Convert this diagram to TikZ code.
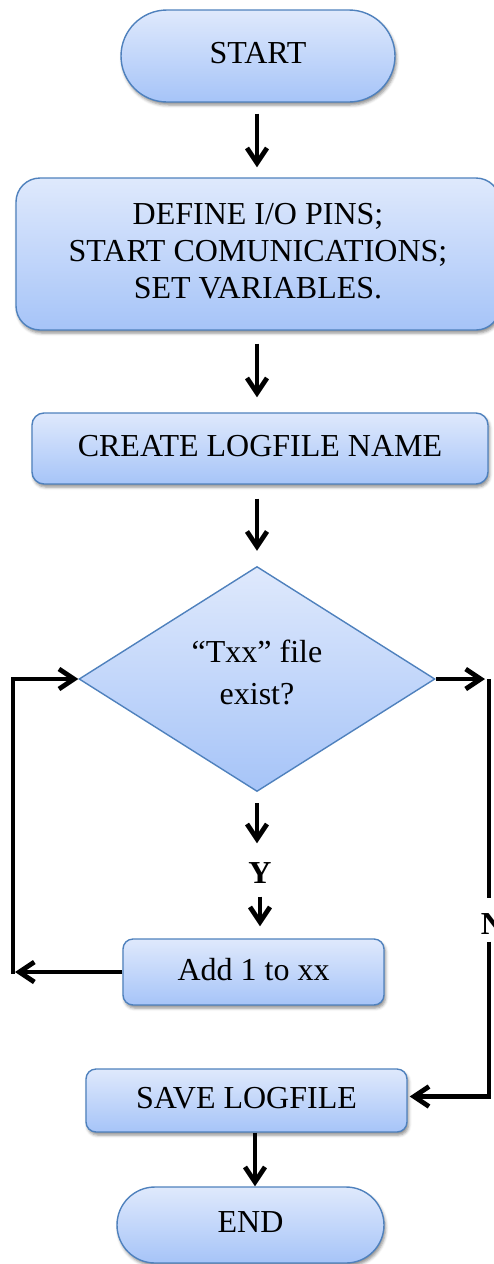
\documentclass[tikz,border=0pt]{standalone}
\usepackage{fontspec}
\setmainfont{Liberation Serif}
\usetikzlibrary{shapes.geometric,arrows.meta,shadows.blur}

\definecolor{boxtop}{HTML}{DFE9FC}
\definecolor{boxbot}{HTML}{A6C4F8}
\definecolor{boxline}{HTML}{4F81BD}

\begin{document}
\begin{tikzpicture}[x=1pt,y=-1pt,
  every node/.style={font=\fontsize{32}{36.7}\selectfont, text=black},
  boxfill/.style={draw=boxline, line width=1.4pt, top color=boxtop, bottom color=boxbot},
  boxshadow/.style={blur shadow={shadow xshift=1.5pt, shadow yshift=-3pt,
      shadow opacity=45, shadow blur radius=3pt}},
  flowbox/.style={boxfill, boxshadow, inner sep=0pt, align=center, text depth=6pt},
  terminal/.style={flowbox, rounded corners=#1},
  decision/.style={boxfill, diamond, inner sep=0pt},
  flag/.style={font=\fontsize{32}{36.7}\selectfont\bfseries, inner sep=0pt},
  link/.style={line width=4.8pt},
  conn/.style={link, -{Straight Barb[length=15pt,width=20pt]}}
]
\useasboundingbox (0,0) rectangle (494,1264);

% process steps
\node[terminal=46pt, minimum width=274pt, minimum height=92pt] (start) at (258,56) {START};
\node[flowbox, rounded corners=24pt, minimum width=484pt, minimum height=152pt] (define) at (258,254)
  {DEFINE I/O PINS;\\START COMUNICATIONS;\\SET VARIABLES.};
\node[flowbox, rounded corners=12pt, minimum width=456pt, minimum height=71pt] (create) at (260,448.5)
  {CREATE LOGFILE NAME};
\node[decision, minimum width=356pt, minimum height=225pt] (decide) at (257,679) {};
\node[align=center, inner sep=0pt, text depth=0pt, font=\fontsize{32}{42}\selectfont] (dtext) at (257,672.5)
  {“Txx” file\\exist?};
\node[flowbox, rounded corners=10pt, minimum width=261pt, minimum height=66pt] (add) at (253.5,972)
  {Add 1 to xx};
\node[flowbox, rounded corners=10pt, minimum width=321pt, minimum height=63pt] (save) at (246.5,1100.5)
  {SAVE LOGFILE};
\node[terminal=38pt, minimum width=267pt, minimum height=76pt] (end) at (250.5,1225) {END};

% branch labels
\node[flag] (ylab) at (260,873) {Y};
\node[flag] (nlab) at (492.5,924) {N};

% return paths
\coordinate (lb) at (13,972);
\coordinate (rt) at (489,679);

% main flow
\draw[conn, shorten <=11pt, shorten >=10pt] ([xshift=-1pt]start.south) -- ([xshift=-1pt]define.north);
\draw[conn, shorten <=13pt, shorten >=15pt] ([xshift=-1pt]define.south) -- ([xshift=-1pt]define.south |- create.north);
\draw[conn, shorten <=14pt, shorten >=15pt] (create.south -| decide.north) -- (decide.north);

% yes branch
\draw[conn, shorten <=11pt, shorten >=19pt] (decide.south) -- (decide.south |- ylab.north);
\draw[conn, shorten <=13pt, shorten >=12pt] (ylab.south) -- (ylab.south |- add.north);
\draw[conn, shorten >=2pt] (add.west) -- (lb);
\draw[conn, line cap=rect] (lb) |- (decide.west);

% no branch
\draw[conn, shorten >=4pt] (decide.east) -- (rt);
\draw[link, shorten >=15pt] (rt) -- (rt |- nlab.north);
\draw[conn, shorten <=7pt, shorten >=2pt] (rt |- nlab.south) |- ([yshift=4pt]save.east);

% finish
\draw[conn] ([xshift=8.5pt]save.south) -- ([xshift=4.5pt]end.north);
\end{tikzpicture}
\end{document}
